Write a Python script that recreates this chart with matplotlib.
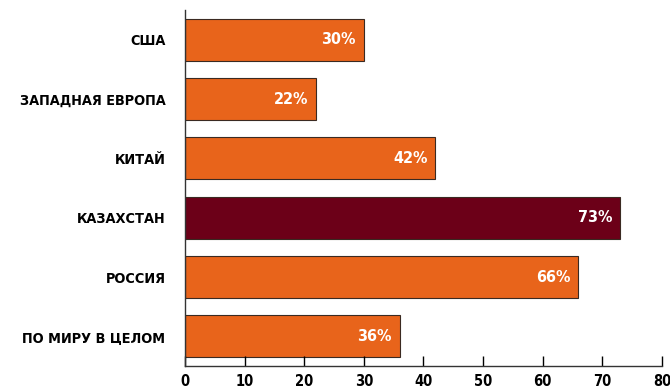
import matplotlib
matplotlib.use("Agg")
import matplotlib.pyplot as plt
from matplotlib import font_manager
from matplotlib.font_manager import FontProperties
from matplotlib.ft2font import FT2Font

categories = ["США", "ЗАПАДНАЯ ЕВРОПА", "КИТАЙ", "КАЗАХСТАН", "РОССИЯ", "ПО МИРУ В ЦЕЛОМ"]
values = [30, 22, 42, 73, 66, 36]
highlight = "КАЗАХСТАН"
x_ticks = [0, 10, 20, 30, 40, 50, 60, 70, 80]

orange = "#E8641B"
maroon = "#6C0018"

needed = set("".join(categories).replace(" ", "")) | set("0123456789%")


def covers(fname):
    try:
        ft = FT2Font(fname)
        return all(ft.get_char_index(ord(ch)) != 0 for ch in needed)
    except Exception:
        return False


def pick_condensed_bold():
    """Return a path to a condensed bold face with Cyrillic, if one is installed."""
    cands = []
    for f in font_manager.fontManager.ttflist:
        w = f.weight if isinstance(f.weight, int) else {"bold": 700}.get(f.weight, 400)
        narrow = (f.stretch in ("condensed", "semi-condensed", "extra-condensed")
                  or "Narrow" in f.name or "Condensed" in f.name
                  or "Condensed" in f.fname or "Narrow" in f.fname)
        if narrow and w >= 600 and f.style == "normal" and covers(f.fname):
            cands.append((abs(w - 700), f.fname))
    cands.sort()
    return cands[0][1] if cands else None


path = pick_condensed_bold()
if path:
    label_fp = FontProperties(fname=path, size=10.4)
    pct_fp = FontProperties(fname=path, size=11.5)
    tick_fp = FontProperties(fname=path, size=10.5)
else:
    label_fp = FontProperties(family="DejaVu Sans", weight="bold", size=9)
    pct_fp = FontProperties(family="DejaVu Sans", weight="bold", size=10)
    tick_fp = FontProperties(family="DejaVu Sans", weight="bold", size=9)

fig = plt.figure(figsize=(6.7, 3.9), dpi=100)
ax = fig.add_axes([0.276, 0.0615, 0.712, 0.9125])

colors = [maroon if c == highlight else orange for c in categories]
ypos = list(range(len(categories)))
ax.barh(ypos, values, height=0.71, color=colors, edgecolor="#3a2a22", linewidth=0.8)

for y, v in zip(ypos, values):
    ax.text(v - 1.3, y, f"{v}%", ha="right", va="center", color="white",
            fontproperties=pct_fp)

ax.set_xlim(0, 80)
ax.set_ylim(5.5, -0.5)
ax.set_yticks(ypos)
ax.set_yticklabels(categories, fontproperties=label_fp)
ax.tick_params(axis="y", length=0, pad=14)
ax.set_xticks(x_ticks)
ax.set_xticklabels([str(t) for t in x_ticks], fontproperties=tick_fp)
ax.tick_params(axis="x", direction="in", length=7, width=1, pad=6, colors="black")

for s in ["top", "right"]:
    ax.spines[s].set_visible(False)
for s in ["left", "bottom"]:
    ax.spines[s].set_color("#333333")
    ax.spines[s].set_linewidth(1)

fig.savefig("out.png", dpi=100)
